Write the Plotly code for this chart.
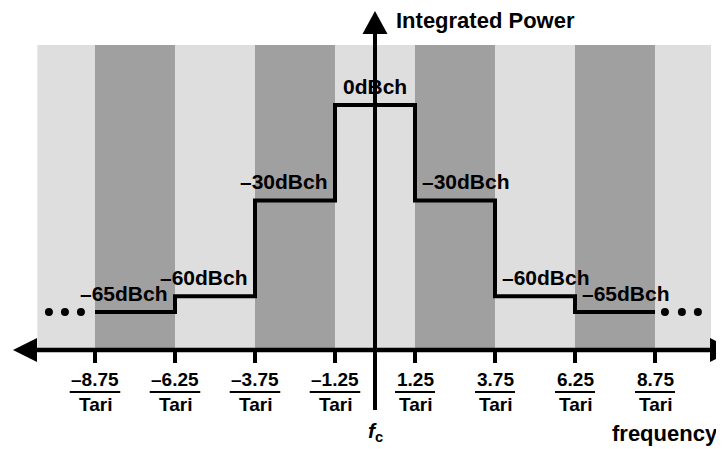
import plotly.graph_objects as go

# ---------------- data ----------------
edges = [-8.75, -6.25, -3.75, -1.25, 1.25, 3.75, 6.25, 8.75]          # frequency offsets (x Tari)
levels = [-65, -60, -30, 0, -30, -60, -65]                              # dBch per segment
level_labels = ["–65dBch", "–60dBch", "–30dBch", "0dBch", "–30dBch", "–60dBch", "–65dBch"]
tick_nums = ["–8.75", "–6.25", "–3.75", "–1.25", "1.25", "3.75", "6.25", "8.75"]
tick_den = "Tari"
dots_left = [-10.19, -9.69, -9.19]
dots_right = [9.06, 9.59, 10.09]
band_limits = [-10.55, 10.5]

# ---------------- geometry / style ----------------
OFF = 8                      # page body margin of the html output
W, H = 716, 441
XR = [-(375 - OFF) / 32, (W - (375 - OFF)) / 32]
YR = [-108.0, 30.488]
AXIS_Y = -76.9
BAND_TOP = 18.9
LIGHT = "#dedede"
DARK = "#a0a0a0"
FONT = "Liberation Sans, Arial, sans-serif"


def px(xp):
    return (xp - OFF) / W


def py(yp):
    return 1 - (yp - OFF) / H


fig = go.Figure()

# step line
fig.add_trace(go.Scatter(
    x=edges, y=levels + [levels[-1]], mode="lines", line_shape="hv",
    line=dict(color="black", width=4), hoverinfo="skip", showlegend=False))

# ellipsis dots
fig.add_trace(go.Scatter(
    x=dots_left + dots_right, y=[levels[0]] * 3 + [levels[-1]] * 3, mode="markers",
    marker=dict(color="black", size=8), hoverinfo="skip", showlegend=False))

shapes = []
# background bands
band_edges = [band_limits[0]] + edges + [band_limits[1]]
for i in range(len(band_edges) - 1):
    shapes.append(dict(type="rect", xref="x", yref="y", layer="below",
                       x0=band_edges[i], x1=band_edges[i + 1], y0=AXIS_Y, y1=BAND_TOP,
                       fillcolor=LIGHT if i % 2 == 0 else DARK, line=dict(width=0)))

# horizontal axis
shapes.append(dict(type="line", xref="paper", yref="y", x0=px(36), x1=px(711),
                   y0=AXIS_Y, y1=AXIS_Y, line=dict(color="black", width=4.5)))
# left arrowhead
shapes.append(dict(type="path", xref="paper", yref="paper",
                   path=f"M {px(13)} {py(350)} L {px(37)} {py(338)} L {px(37)} {py(362)} Z",
                   fillcolor="black", line=dict(width=0)))
# right arrowhead
shapes.append(dict(type="path", xref="paper", yref="paper",
                   path=f"M {px(734)} {py(350)} L {px(710)} {py(338)} L {px(710)} {py(362)} Z",
                   fillcolor="black", line=dict(width=0)))
# vertical axis
shapes.append(dict(type="line", xref="x", yref="paper", x0=0, x1=0,
                   y0=py(410), y1=py(30), line=dict(color="black", width=4)))
shapes.append(dict(type="path", xref="paper", yref="paper",
                   path=f"M {px(375)} {py(11)} L {px(362.5)} {py(34)} L {px(387.5)} {py(34)} Z",
                   fillcolor="black", line=dict(width=0)))

# ticks + fraction bars
cw = {"–": 0.556, ".": 0.278}
TFS = 19
for t, lab in zip(edges, tick_nums):
    shapes.append(dict(type="line", xref="x", yref="paper", x0=t, x1=t,
                       y0=py(350), y1=py(363), line=dict(color="black", width=4)))
    wpx = sum(cw.get(c, 0.556) for c in lab) * TFS + 3
    half = wpx / 2 / W * (XR[1] - XR[0])
    shapes.append(dict(type="line", xref="x", yref="paper", x0=t - half, x1=t + half,
                       y0=py(392), y1=py(392), line=dict(color="black", width=2)))

annotations = []
for t, lab in zip(edges, tick_nums):
    annotations.append(dict(x=t, y=py(379), xref="x", yref="paper", text=lab, showarrow=False,
                            xanchor="center", yanchor="middle",
                            font=dict(family=FONT, size=TFS, color="black", weight="bold")))
    annotations.append(dict(x=t, y=py(404), xref="x", yref="paper", text=tick_den, showarrow=False,
                            xanchor="center", yanchor="middle",
                            font=dict(family=FONT, size=TFS, color="black", weight="bold")))

# level labels
LFS = 21
for i, (lev, lab) in enumerate(zip(levels, level_labels)):
    x0, x1 = edges[i], edges[i + 1]
    mid = (x0 + x1) / 2
    if abs(mid) < 1e-9:
        ax, anc, sh = mid, "center", 0
    elif mid < 0:
        ax, anc, sh = x1, "right", -5
    else:
        ax, anc, sh = x0, "left", 5
    annotations.append(dict(x=ax, y=lev, xref="x", yref="y", text=lab, showarrow=False,
                            xanchor=anc, yanchor="middle", xshift=sh, yshift=19,
                            font=dict(family=FONT, size=LFS, color="black", weight="bold")))

# axis titles
annotations.append(dict(x=px(394), y=py(21), xref="paper", yref="paper", text="Integrated Power",
                        showarrow=False, xanchor="left", yanchor="middle",
                        font=dict(family=FONT, size=22, color="black", weight="bold")))
annotations.append(dict(x=px(720), y=py(433), xref="paper", yref="paper", text="frequency",
                        showarrow=False, xanchor="right", yanchor="middle",
                        font=dict(family=FONT, size=22, color="black", weight="bold")))
annotations.append(dict(x=0, y=py(432), xref="x", yref="paper", text="<i>f</i><sub>c</sub>",
                        showarrow=False, xanchor="center", yanchor="middle",
                        font=dict(family=FONT, size=21, color="black", weight="bold")))

fig.update_layout(
    width=W, height=H, margin=dict(l=0, r=0, t=0, b=0),
    paper_bgcolor="white", plot_bgcolor="white",
    xaxis=dict(range=XR, visible=False, fixedrange=True),
    yaxis=dict(range=YR, visible=False, fixedrange=True),
    shapes=shapes, annotations=annotations, showlegend=False)

fig.write_html("out.html")
